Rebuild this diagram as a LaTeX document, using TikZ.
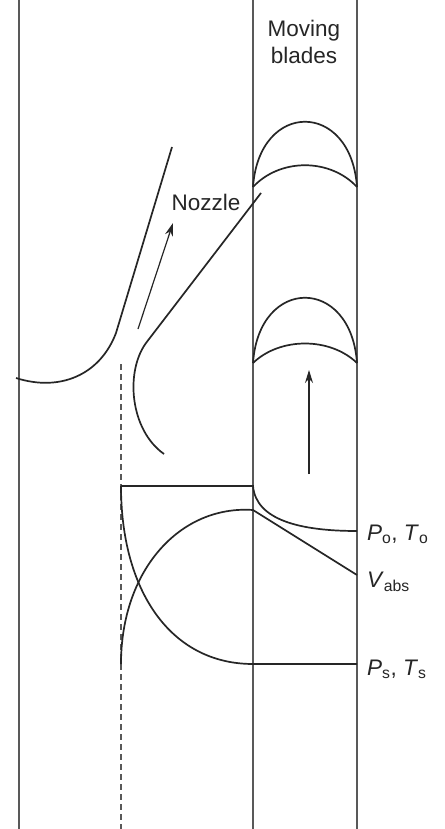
\documentclass[tikz,border=0pt]{standalone}
\usepackage{fontspec}
\setmainfont{Liberation Sans}
\usetikzlibrary{arrows.meta}
\tikzset{px/.style={x=1pt,y=-1pt},ln/.style={line width=1.7pt,black!85},thin line/.style={line width=1.3pt,black!65},
arr/.style={line width=1.2pt,black!85,-{Stealth[length=13pt,width=8pt]}},
lab/.style={font=\fontsize{22.5}{27}\selectfont,inner sep=0pt,text=black!85}}
\begin{document}
\begin{tikzpicture}[px]
\useasboundingbox (0,0) rectangle (444,829);
\fill[white] (0,0) rectangle (444,829);
\draw[thin line] (19,0) -- (19,829);
\draw[thin line] (253,0) -- (253,829);
\draw[thin line] (357,0) -- (357,829);
\draw[thin line,dash pattern=on 6pt off 4pt] (121,364) -- (121,829);
% blades
\draw[ln] (253,187) .. controls (259,100) and (351,100) .. (357,187);
\draw[ln] (253,187) .. controls (280,158) and (330,158) .. (357,187);
\draw[ln] (253,363) .. controls (259,276) and (351,276) .. (357,363);
\draw[ln] (253,363) .. controls (280,337) and (330,337) .. (357,363);
% nozzle
\draw[ln] (16,378) .. controls (60,392) and (100,375) .. (116,333) -- (172,147);
\draw[ln] (261,193) -- (146,343) .. controls (125,372) and (130,430) .. (164,454);
% arrows
\draw[arr] (138,329) -- (173,223);
\draw[arr] (309,474) -- (309,370);
% curves
\draw[ln] (121,486) -- (253,486) .. controls (256,520) and (300,531) .. (357,531);
\draw[ln] (121,486) .. controls (121,590) and (170,664) .. (253,664) -- (357,664);
\draw[ln] (121,664) .. controls (121,570) and (180,505) .. (253,510) -- (357,575);
\node[lab] (n) at (206,202) {Nozzle};
\node[lab,align=center] (m) at (304,42) {Moving\\blades};
\node[lab,anchor=west] (p) at (367,534) {\textit{P}\textsubscript{o}, \textit{T}\textsubscript{o}};
\node[lab,anchor=west] (v) at (367,582) {\textit{V}\textsubscript{abs}};
\node[lab,anchor=west] (s) at (367,669) {\textit{P}\textsubscript{s}, \textit{T}\textsubscript{s}};
\end{tikzpicture}
\end{document}
